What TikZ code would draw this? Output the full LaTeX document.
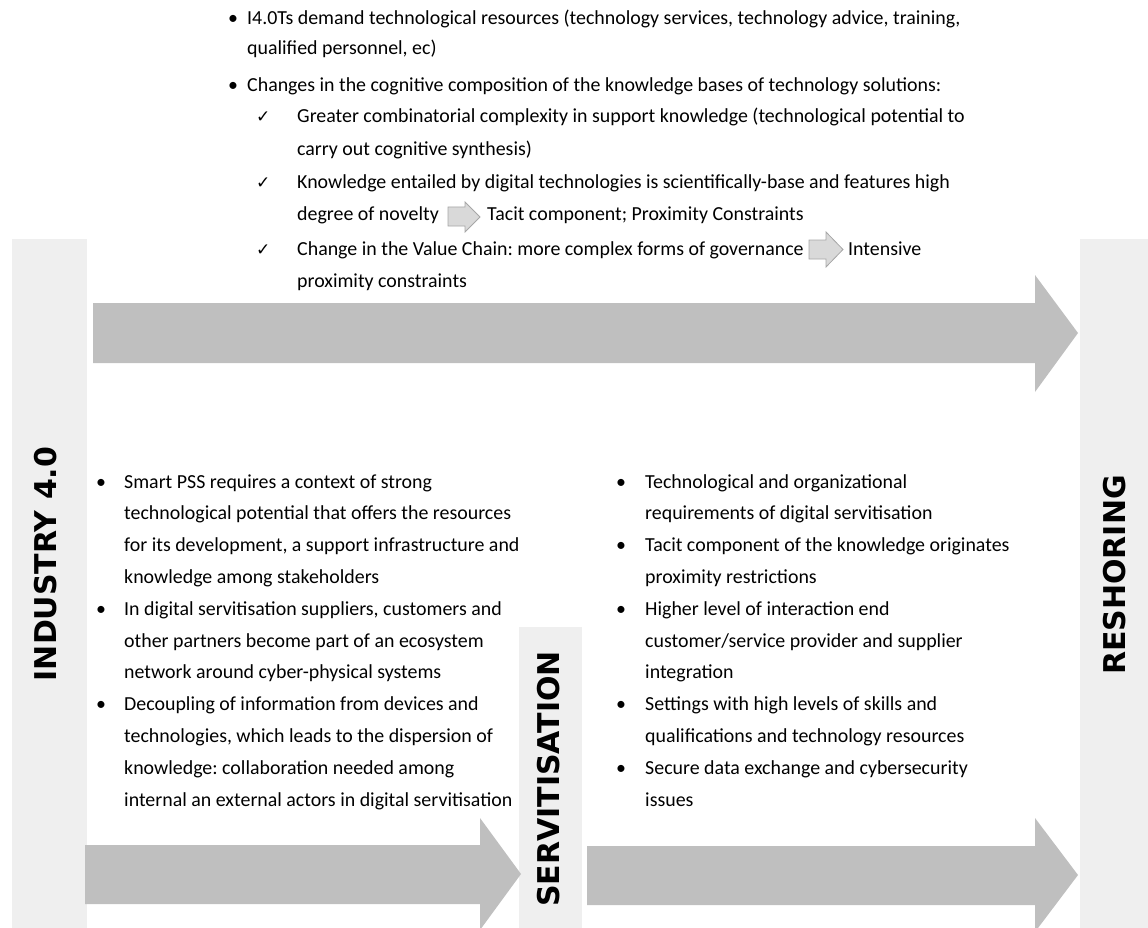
\documentclass[tikz,border=0pt]{standalone}
\usepackage{fontspec}
\setmainfont{Carlito}
\newfontfamily\labelfont{DejaVu Sans}
\newfontfamily\checkfont{DejaVu Sans}
\definecolor{barcol}{HTML}{EFEFEF}
\definecolor{arrcol}{HTML}{BFBFBF}
\definecolor{smallfill}{HTML}{D9D9D9}
\definecolor{smalledge}{HTML}{A6A6A6}
\newcommand\mybody{\fontsize{19.9}{24}\selectfont}
\frenchspacing
\begin{document}
\begin{tikzpicture}[x=1pt,y=-1pt,
  txt/.style={anchor=base west, inner sep=0pt, font=\mybody},
  chk/.style={anchor=base west, inner sep=0pt, font=\checkfont\fontsize{17}{20}\selectfont},
  bar/.style={fill=barcol, draw=none},
  bigarrow/.style={fill=arrcol, draw=none},
  smallarrow/.style={fill=smallfill, draw=smalledge, line width=0.8pt},
  vlabel/.style={rotate=90, font=\labelfont\bfseries\fontsize{30}{32}\selectfont, inner sep=0pt}]
\useasboundingbox (0,0) rectangle (1148,928);
\clip (0,0) rectangle (1148,928);
% side bars
\fill[bar] (12,239) rectangle (87,928);
\fill[bar] (1080,239) rectangle (1148,928);
\fill[bar] (519,627) rectangle (582,928);
% big arrows
\fill[bigarrow] (93,303) -- (1035,303) -- (1035,275) -- (1078,333) -- (1035,392) -- (1035,363) -- (93,363) -- cycle;
\fill[bigarrow] (85,845) -- (480,845) -- (480,818) -- (521,874) -- (480,930) -- (480,904) -- (85,904) -- cycle;
\fill[bigarrow] (587,846) -- (1035,846) -- (1035,818) -- (1078,875) -- (1035,932) -- (1035,905) -- (587,905) -- cycle;
% vertical labels
\node[vlabel] (ind) at (46,564) {INDUSTRY 4.0};
\node[vlabel] (res) at (1115,575) {RESHORING};
\node[vlabel] (ser) at (549,779) {SERVITISATION};
% top text
\node[txt] (tb1) at (228,25) {•};
\node[txt] (t1) at (247,25) {I4.0Ts demand technological resources (technology services, technology advice, training,};
\node[txt] (t2) at (247,55) {qualified personnel, ec)};
\node[txt] (tb2) at (228,92) {•};
\node[txt] (t3) at (247,92) {Changes in the cognitive composition of the knowledge bases of technology solutions:};
\node[chk] (c1) at (256,123) {✓};
\node[txt] (t4) at (297,123) {Greater combinatorial complexity in support knowledge (technological potential to};
\node[txt] (t5) at (297,156) {carry out cognitive synthesis)};
\node[chk] (c2) at (256,189) {✓};
\node[txt] (t6) at (297,189) {Knowledge entailed by digital technologies is scientifically-base and features high};
\node[txt] (t7) at (297,220) {degree of novelty};
\node[txt] (t7b) at (487,220) {Tacit component; Proximity Constraints};
\node[chk] (c3) at (256,255) {✓};
\node[txt] (t8) at (297,255) {Change in the Value Chain: more complex forms of governance};
\node[txt] (t8b) at (848,255) {Intensive};
\node[txt] (t9) at (297,287) {proximity constraints};
% small arrows
\draw[smallarrow] (448,207) -- (465,207) -- (465,202) -- (480,217) -- (465,232) -- (465,226) -- (448,226) -- cycle;
\draw[smallarrow] (809,240) -- (826,240) -- (826,232) -- (843,249.5) -- (826,267) -- (826,259) -- (809,259) -- cycle;
% left text
\node[txt] (lb1) at (96,488) {•};
\node[txt] (l1) at (124,488) {Smart PSS requires a context of strong};
\node[txt] (l2) at (124,519.8) {technological potential that offers the resources};
\node[txt] (l3) at (124,551.6) {for its development, a support infrastructure and};
\node[txt] (l4) at (124,583.4) {knowledge among stakeholders};
\node[txt] (lb2) at (96,615.2) {•};
\node[txt] (l5) at (124,615.2) {In digital servitisation suppliers, customers and};
\node[txt] (l6) at (124,647) {other partners become part of an ecosystem};
\node[txt] (l7) at (124,678.8) {network around cyber-physical systems};
\node[txt] (lb3) at (96,710.6) {•};
\node[txt] (l8) at (124,710.6) {Decoupling of information from devices and};
\node[txt] (l9) at (124,742.4) {technologies, which leads to the dispersion of};
\node[txt] (l10) at (124,774.2) {knowledge: collaboration needed among};
\node[txt] (l11) at (124,806) {internal an external actors in digital servitisation};
% right text
\node[txt] (rb1) at (616,488) {•};
\node[txt] (r1) at (645,488) {Technological and organizational};
\node[txt] (r2) at (645,519.8) {requirements of digital servitisation};
\node[txt] (rb2) at (616,551.6) {•};
\node[txt] (r3) at (645,551.6) {Tacit component of the knowledge originates};
\node[txt] (r4) at (645,583.4) {proximity restrictions};
\node[txt] (rb3) at (616,615.2) {•};
\node[txt] (r5) at (645,615.2) {Higher level of interaction end};
\node[txt] (r6) at (645,647) {customer/service provider and supplier};
\node[txt] (r7) at (645,678.8) {integration};
\node[txt] (rb4) at (616,710.6) {•};
\node[txt] (r8) at (645,710.6) {Settings with high levels of skills and};
\node[txt] (r9) at (645,742.4) {qualifications and technology resources};
\node[txt] (rb5) at (616,774.2) {•};
\node[txt] (r10) at (645,774.2) {Secure data exchange and cybersecurity};
\node[txt] (r11) at (645,806) {issues};
\end{tikzpicture}
\end{document}
